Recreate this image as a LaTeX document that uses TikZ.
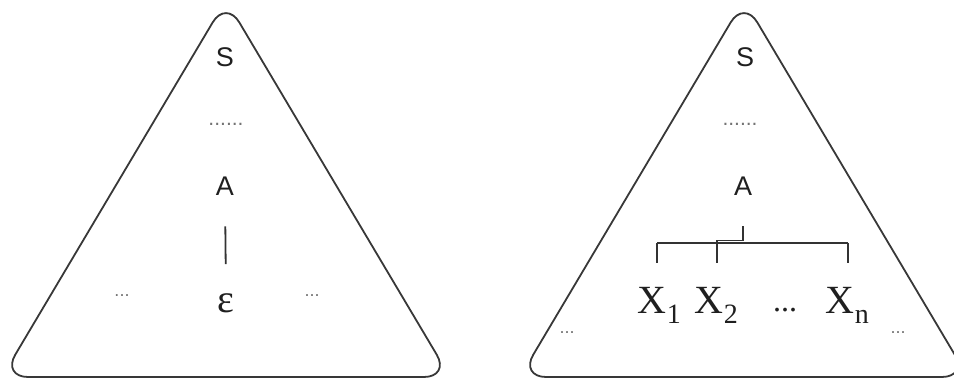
\documentclass[tikz,border=0pt]{standalone}
\usepackage{fontspec}
\setmainfont{Liberation Serif}
\setsansfont{Liberation Sans}
\usetikzlibrary{positioning}

\begin{document}
\begin{tikzpicture}[
  x=1pt, y=-1pt,
  tri/.style={draw=black!78, line width=1.8pt, rounded corners=26pt},
  sym/.style={font=\sffamily\fontsize{27}{27}\selectfont, text=black!88, inner sep=0pt},
  term/.style={font=\fontsize{40}{40}\selectfont, text=black!88, inner sep=0pt},
  sub/.style={font=\fontsize{28}{28}\selectfont, text=black!88, inner sep=0pt},
  gap/.style={font=\sffamily\fontsize{18}{18}\selectfont, text=black!55, inner sep=0pt},
  link/.style={draw=black!80, line width=1.8pt}]

\useasboundingbox (0,0) rectangle (954,379);

% ---- left tree: A derives the empty word ----
\draw[tri] (226,377) -- (2,377) -- (226,0) -- (450,377) -- cycle;
\node[sym] (S1) at (225,57) {S};
\node[gap, font=\sffamily\fontsize{21}{21}\selectfont] (dots1) at (226,124) {......};
\node[sym] (A1) at (225,186) {A};
\node[term] (eps) at (226,303) {ε};
\node[gap] (lside1) at (122,296) {...};
\node[gap] (rside1) at (312,296) {...};

\draw[link, shorten <=31pt, shorten >=29pt] (A1.south) -- (eps.north);

% ---- right tree: A derives X_1 ... X_n ----
\draw[tri] (744,377) -- (520,377) -- (744,0) -- (968,377) -- cycle;
\node[sym] (S2) at (745,57) {S};
\node[gap, font=\sffamily\fontsize{21}{21}\selectfont] (dots2) at (740,124) {......};
\node[sym] (A2) at (743,186) {A};

\foreach \i/\x in {1/652, 2/709, n/840} {
  \node[term] (x\i) at (\x,300) {X};
  \node[sub, anchor=south west] (x\i sub) at ([yshift=-10pt]x\i.south east) {\i};
}
\node[term, font=\fontsize{32}{32}\selectfont] (xdots) at (785,310) {...};
\node[gap] (lside2) at (567,333) {...};
\node[gap] (rside2) at (898,333) {...};

% bracket under A
\coordinate (bar-l) at (657,243);
\coordinate (bar-r) at (848,243);
\draw[link] (bar-l) -- (bar-r);
\draw[link] (bar-l) -- ++(0,20);
\draw[link] (bar-r) -- ++(0,20);
\draw[link] ([yshift=-31pt]A2.south) -- ++(0,14) -| ++(-26,23);
\end{tikzpicture}
\end{document}
